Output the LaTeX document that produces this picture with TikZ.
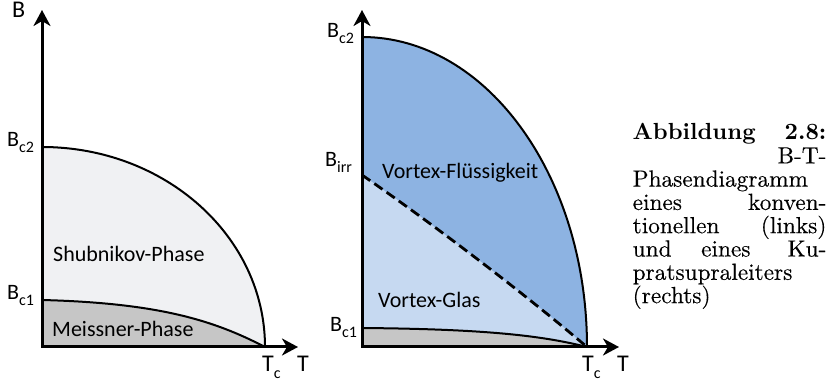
\documentclass[tikz,border=0pt]{standalone}
\usepackage{fontspec}
\newfontfamily\lab{Carlito}
\newfontfamily\capfont{lmroman10}[Extension=.otf, UprightFont=*-regular, BoldFont=*-bold, UprightFeatures={FakeBold=0.3}]
\usetikzlibrary{arrows.meta}
\definecolor{shub}{HTML}{F0F1F3}
\definecolor{meis}{HTML}{C6C6C6}
\definecolor{vdark}{HTML}{8DB3E2}
\definecolor{vlight}{HTML}{C6D9F1}
\newcommand\lsub[1]{\raisebox{-6pt}{\fontsize{16}{16}\selectfont #1}}
\begin{document}
\begin{tikzpicture}[x=1pt,y=-1pt,
  axis/.style={line width=3pt, line cap=rect, -{Stealth[length=16pt,width=17pt,inset=5pt]}},
  curve/.style={line width=2pt},
  dashcurve/.style={line width=2.8pt, dash pattern=on 10pt off 5pt},
  phase/.style={anchor=base west, inner sep=0pt, font=\lab\fontsize{22}{22}\selectfont},
  blab/.style={anchor=base west, inner sep=0pt, font=\lab\fontsize{22}{22}\selectfont},
  tlab/.style={anchor=base west, inner sep=0pt, font=\lab\fontsize{24}{24}\selectfont}]
\useasboundingbox (0,0) rectangle (831,382);
% ---------- left diagram ----------
\coordinate (LO) at (42,347);
\coordinate (LB2) at (42,147);
\coordinate (LB1) at (42,300);
\coordinate (LTc) at (265,347);
\coordinate (LBtop) at (42,10);
\coordinate (LTend) at (298,347);
\fill[shub] (LO) -- (LB2) .. controls (165.2,147) and (265,236.5) .. (LTc) -- cycle;
\fill[meis] (LO) -- (LB1) .. controls (160,303) and (215,321) .. (LTc) -- cycle;
\draw[curve] (LB2) .. controls (165.2,147) and (265,236.5) .. (LTc);
\draw[curve] (LB1) .. controls (160,303) and (215,321) .. (LTc);
\draw[axis] (LO) -- (LBtop);
\draw[axis] (LO) -- (LTend);
\node[tlab] (lB) at (12,18) {B};
\node[tlab] (lT) at (297,372) {T};
\node[tlab] (lTc) at (262,372) {T\lsub{c}};
\node[blab] (lBc2) at (7,147) {B\lsub{c2}};
\node[blab] (lBc1) at (7,300) {B\lsub{c1}};
\node[phase] (shubnikov) at (53,262) {Shubnikov-Phase};
\node[phase] (meissner) at (52,337) {Meissner-Phase};
% ---------- right diagram ----------
\coordinate (RO) at (362,347);
\coordinate (RB2) at (362,37);
\coordinate (RBirr) at (362,175);
\coordinate (RB1) at (362,328);
\coordinate (RTc) at (587,347);
\coordinate (RBtop) at (362,10);
\coordinate (RTend) at (619,347);
\fill[vdark] (RO) -- (RB2) .. controls (486.3,37) and (587,175.8) .. (RTc) -- cycle;
\fill[vlight] (RO) -- (RBirr) .. controls (430,222) and (520,290) .. (RTc) -- cycle;
\fill[meis] (RO) -- (RB1) .. controls (480,329) and (540,335) .. (RTc) -- cycle;
\draw[curve] (RB2) .. controls (486.3,37) and (587,175.8) .. (RTc);
\draw[curve] (RB1) .. controls (480,329) and (540,335) .. (RTc);
\draw[dashcurve] (RBirr) .. controls (430,222) and (520,290) .. (RTc);
\draw[axis] (RO) -- (RBtop);
\draw[axis] (RO) -- (RTend);
\node[tlab] (rT) at (617,372) {T};
\node[tlab] (rTc) at (582,372) {T\lsub{c}};
\node[blab] (rBc2) at (327,38) {B\lsub{c2}};
\node[blab] (rBirr) at (325,167) {B\lsub{irr}};
\node[blab] (rBc1) at (330,332) {B\lsub{c1}};
\node[phase] (fluessig) at (382,179) {Vortex-Flüssigkeit};
\node[phase] (glas) at (378,308) {Vortex-Glas};
% ---------- caption ----------
\node[anchor=base west, inner sep=0pt] (cap) at (632.5,140) {\parbox[t]{193.7pt}{\capfont\fontsize{23.3}{23.3}\selectfont
\hbox to\hsize{\textbf{Abbildung}\hfil\textbf{2.8:}}
\hbox to\hsize{\hfil B-T-}
\hbox to\hsize{Phasendiagramm\hfil}
\hbox to\hsize{eines\hfil konven-}
\hbox to\hsize{tionellen\hfil (links)}
\hbox to\hsize{und\hskip 0pt plus 1fil eines\hskip 0pt plus 1.25fil Ku-}
\hbox to\hsize{pratsupraleiters\hfil}
\hbox to\hsize{(rechts)\hfil}}};
\end{tikzpicture}
\end{document}
